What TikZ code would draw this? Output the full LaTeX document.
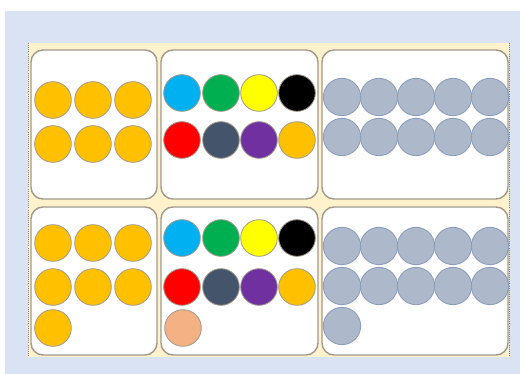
\documentclass[tikz,border=0pt]{standalone}
\definecolor{hgblau}{HTML}{DAE3F3}
\definecolor{creme}{HTML}{FFF2CC}
\definecolor{rand}{HTML}{A09A8C}
\definecolor{gold}{HTML}{FFC000}
\definecolor{hellblau}{HTML}{00B0F0}
\definecolor{gruen}{HTML}{00B050}
\definecolor{gelb}{HTML}{FFFF00}
\definecolor{rot}{HTML}{FF0000}
\definecolor{schiefer}{HTML}{44546A}
\definecolor{lila}{HTML}{7030A0}
\definecolor{pfirsich}{HTML}{F4B183}
\definecolor{grau}{HTML}{A9B5C8}
\definecolor{graurand}{HTML}{8A9DBB}

\def\punkt#1#2{ ({0.03*(#1)},{-0.03*(#2)}) }
\def\kugel#1#2#3{
	\filldraw[draw=rand,line width=0.7pt,fill=#3] \punkt{#1}{#2} circle[radius=0.55];
}
\def\graukugel#1#2{
	\filldraw[draw=graurand,line width=0.7pt,fill=grau,fill opacity=0.95] \punkt{#1}{#2} circle[radius=0.56];
}
\def\kasten#1#2#3#4{
	\filldraw[draw=rand,fill=white,line width=1.2pt,rounded corners=0.36cm] \punkt{#1}{#2} rectangle \punkt{#3}{#4};
}
% drei Reihen goldene Kugeln
\def\gold#1{
	\foreach \x in {53,93,133}{
		\kugel{\x}{#1}{gold}
	}
}
% eine Reihe graue Kugeln
\def\graureihe#1{
	\foreach \x in {342,379,416,453,490}{
		\graukugel{\x}{#1}
	}
}
\def\bunt#1#2{
	\kugel{182}{#1}{hellblau}
	\kugel{221}{#1}{gruen}
	\kugel{259}{#1}{gelb}
	\kugel{297}{#1}{black}
	\kugel{182}{#2}{rot}
	\kugel{221}{#2}{schiefer}
	\kugel{259}{#2}{lila}
	\kugel{297}{#2}{gold}
}

\begin{document}
\begin{tikzpicture}
\useasboundingbox \punkt{0}{0} rectangle \punkt{520}{374};
\fill[color=hgblau] \punkt{5}{11} rectangle \punkt{520}{374};
\fill[color=creme] \punkt{28}{43} rectangle \punkt{509}{357};
\draw[color=gray,densely dotted,line width=0.8pt] \punkt{28}{43} -- \punkt{28}{357};
\draw[color=gray,densely dotted,line width=0.8pt] \punkt{509}{43} -- \punkt{509}{357};
% obere Reihe
\kasten{31}{50}{157}{199}
\kasten{161}{50}{318}{199}
\kasten{322}{50}{508}{199}
\gold{100}
\gold{144}
\bunt{93}{140}
\graureihe{97}
\graureihe{137}
% untere Reihe
\kasten{31}{207}{157}{355}
\kasten{161}{207}{318}{355}
\kasten{322}{207}{508}{355}
\gold{243}
\gold{287}
\kugel{53}{328}{gold}
\bunt{238}{287}
\kugel{183}{328}{pfirsich}
\graureihe{246}
\graureihe{286}
\graukugel{342}{326}
\end{tikzpicture}
\end{document}
